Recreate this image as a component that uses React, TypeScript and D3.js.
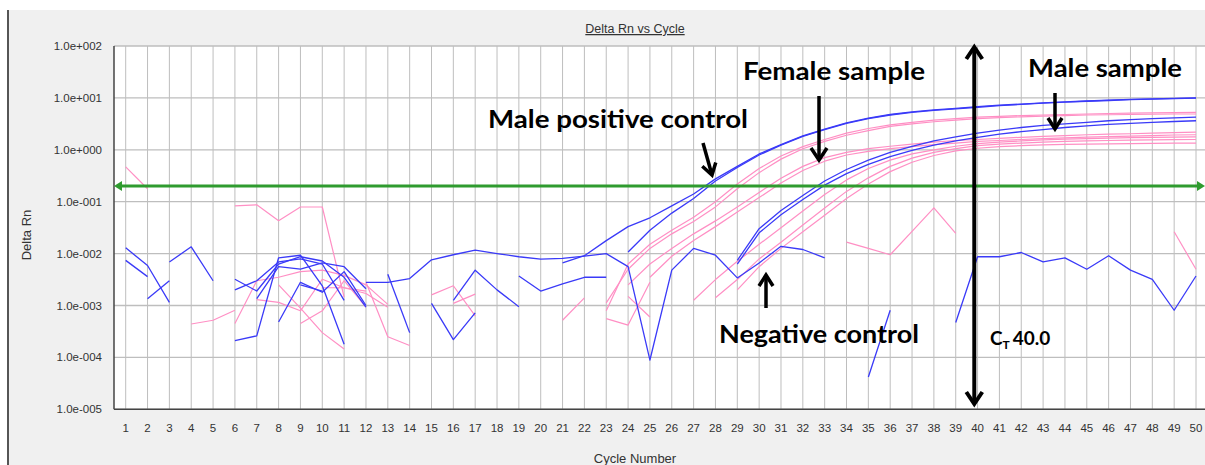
import React from 'react';
import * as d3 from 'd3';

type Run = { from: number; dRn: (number | null)[] };

// axis ticks
const cycles = d3.range(1, 51);
const decades = [1e-5, 1e-4, 1e-3, 1e-2, 1e-1, 1e0, 1e1, 1e2];
const threshold = 0.2;
const ctCycle = 39.85;

// amplification curves (Delta Rn per cycle, starting at `from`)
const malePositive1: Run = { from: 21, dRn: [6.6e-3, 9.1e-3, 0.0178, 0.0331, 0.049, 0.083, 0.141, 0.275, 0.479, 0.832, 1.26, 1.86, 2.51, 3.31, 4.07, 4.79, 5.37, 5.89, 6.31, 6.76, 7.24, 7.59, 8.04, 8.41, 8.71, 9.02, 9.33, 9.55, 9.77, 10.0] };
const malePositive2: Run = { from: 24, dRn: [0.0107, 0.0282, 0.0603, 0.115, 0.251, 0.457, 0.794, 1.23, 1.82, 2.45, 3.24, 3.98, 4.68, 5.25, 5.75, 6.17, 6.61, 7.08, 7.5, 7.94, 8.32, 8.61, 8.91, 9.23, 9.44, 9.66, 9.89] };
const male1: Run = { from: 29, dRn: [7.4e-3, 0.0302, 0.0676, 0.132, 0.251, 0.417, 0.631, 0.891, 1.17, 1.48, 1.78, 2.09, 2.4, 2.69, 2.95, 3.16, 3.39, 3.63, 3.8, 3.98, 4.12, 4.27] };
const male2: Run = { from: 29, dRn: [6.3e-3, 0.0251, 0.0562, 0.11, 0.209, 0.347, 0.525, 0.741, 0.977, 1.23, 1.48, 1.74, 2.0, 2.24, 2.45, 2.69, 2.88, 3.09, 3.24, 3.39, 3.51, 3.63] };
const female1: Run = { from: 23, dRn: [7.9e-4, 6.3e-3, 0.0151, 0.0282, 0.0501, 0.1, 0.219, 0.437, 0.759, 1.15, 1.58, 2.09, 2.57, 3.02, 3.39, 3.72, 3.98, 4.27, 4.42, 4.57, 4.68, 4.79, 4.9, 5.01, 5.07, 5.13, 5.19, 5.25] };
const female2: Run = { from: 23, dRn: [1.12e-3, 5.0e-3, 0.0126, 0.024, 0.0417, 0.0794, 0.178, 0.363, 0.661, 1.05, 1.45, 1.91, 2.34, 2.82, 3.16, 3.47, 3.72, 3.98, 4.17, 4.32, 4.47, 4.57, 4.68, 4.73, 4.79, 4.84, 4.9, 4.9] };
const female3: Run = { from: 24, dRn: [2.5e-3, 6.3e-3, 0.0126, 0.024, 0.0427, 0.0794, 0.151, 0.282, 0.479, 0.708, 0.891, 1.05, 1.17, 1.29, 1.41, 1.51, 1.58, 1.66, 1.74, 1.82, 1.88, 1.95, 2.0, 2.04, 2.09, 2.14, 2.19] };
const female4: Run = { from: 25, dRn: [3.5e-3, 8.9e-3, 0.0178, 0.0331, 0.0631, 0.12, 0.229, 0.398, 0.603, 0.794, 0.933, 1.05, 1.15, 1.26, 1.35, 1.45, 1.51, 1.58, 1.64, 1.7, 1.76, 1.8, 1.84, 1.88, 1.93, 1.95] };
const late1: Run = { from: 27, dRn: [1.26e-3, 3.16e-3, 7.1e-3, 0.0151, 0.0316, 0.066, 0.138, 0.263, 0.437, 0.631, 0.832, 1.0, 1.17, 1.32, 1.41, 1.48, 1.55, 1.6, 1.64, 1.68, 1.72, 1.74, 1.76, 1.78] };
const late2: Run = { from: 28, dRn: [1.41e-3, 3.16e-3, 7.9e-3, 0.0166, 0.0355, 0.0759, 0.158, 0.288, 0.479, 0.692, 0.891, 1.05, 1.2, 1.29, 1.35, 1.4, 1.45, 1.48, 1.51, 1.53, 1.55, 1.57, 1.58] };
const late3: Run = { from: 29, dRn: [2.0e-3, 5.6e-3, 0.0126, 0.0263, 0.055, 0.115, 0.219, 0.38, 0.575, 0.776, 0.955, 1.07, 1.15, 1.2, 1.24, 1.27, 1.29, 1.3, 1.32, 1.33, 1.35, 1.35] };

// noise / negative control traces (blue)
const negative1: Run = { from: 12, dRn: [2.8e-3, 2.8e-3, 3.3e-3, 7.6e-3, 9.5e-3, 0.0117, 0.01, 8.7e-3, 7.8e-3, 8.1e-3, 8.9e-3, 0.01, 5.6e-3, 8.9e-5, 4.8e-3, 0.0126, 9.3e-3, 3.4e-3, 6.6e-3, 0.0138, 0.012, 8.3e-3] };
const negative2: Run = { from: 35, dRn: [4.2e-5, 8.1e-4, null, null, 4.7e-4, 8.7e-3, 8.7e-3, 0.0105, 6.9e-3, 8.3e-3, 5.0e-3, 9.1e-3, 4.8e-3, 3.2e-3, 8.1e-4, 3.7e-3] };
const blueNoise1: Run = { from: 1, dRn: [0.0129, 5.9e-3, 1.15e-3] };
const blueNoise2: Run = { from: 1, dRn: [7.4e-3, 3.6e-3] };
const blueNoise3: Run = { from: 2, dRn: [1.35e-3, 3.0e-3] };
const blueNoise4: Run = { from: 3, dRn: [6.9e-3, 0.0135, 3.0e-3] };
const blueNoise5: Run = { from: 6, dRn: [3.2e-3, 1.9e-3, 6.3e-3, 8.7e-3, 7.2e-3, 3.5e-3, 9.3e-4] };
const blueNoise6: Run = { from: 6, dRn: [2.0e-3, 3.0e-3, 6.9e-3, 7.9e-3, 6.3e-3, 1.26e-3] };
const blueNoise7: Run = { from: 6, dRn: [2.1e-4, 2.6e-4, 8.3e-3, 9.3e-3, 2.4e-3, 1.8e-4] };
const blueNoise8: Run = { from: 7, dRn: [1.35e-3, 5.6e-3, 5.0e-3, 6.6e-3, 5.6e-3, 2.1e-3] };
const blueNoise9: Run = { from: 8, dRn: [4.8e-4, 2.8e-3, 1.8e-3, 4.5e-3, 1.0e-3] };
const blueNoise10: Run = { from: 9, dRn: [2.5e-3, 1.9e-3] };
const blueNoise11: Run = { from: 13, dRn: [4.0e-3, 3.0e-4] };
const blueNoise12: Run = { from: 15, dRn: [1.1e-3, 2.2e-4, 7.2e-4] };
const blueNoise13: Run = { from: 16, dRn: [1.26e-3, 4.8e-3, 2.0e-3, 9.5e-4] };
const blueNoise14: Run = { from: 19, dRn: [3.7e-3, 1.9e-3, 2.6e-3, 3.5e-3, 3.5e-3] };

// noise traces (pink)
const pinkNoise1: Run = { from: 1, dRn: [0.47, 0.178] };
const pinkNoise2: Run = { from: 4, dRn: [4.4e-4, 5.2e-4, 8.1e-4] };
const pinkNoise3: Run = { from: 6, dRn: [0.083, 0.087, 0.043, 0.079, 0.079, 1.45e-3] };
const pinkNoise4: Run = { from: 6, dRn: [4.5e-4, 3.0e-3, 3.5e-3, 4.5e-3, 4.8e-3, 3.8e-3, 2.5e-3, 1.05e-3] };
const pinkNoise5: Run = { from: 7, dRn: [1.3e-3, 1.15e-3, 7.9e-4, 3.2e-3, 2.2e-3, 1.7e-3, 9.3e-4] };
const pinkNoise6: Run = { from: 8, dRn: [2.5e-3, 8.9e-4, 3.0e-4, 1.45e-4] };
const pinkNoise7: Run = { from: 9, dRn: [4.5e-4, 7.9e-4, 3.0e-3, 9.3e-4] };
const pinkNoise8: Run = { from: 12, dRn: [2.8e-3, 2.5e-4, 1.7e-4] };
const pinkNoise9: Run = { from: 10, dRn: [2.2e-3, 2.2e-3, 1.9e-3] };
const pinkNoise10: Run = { from: 15, dRn: [1.6e-3, 2.4e-3, 6.3e-4] };
const pinkNoise11: Run = { from: 16, dRn: [1.1e-3, 1.66e-3] };
const pinkNoise12: Run = { from: 21, dRn: [5.2e-4, 1.4e-3] };
const pinkNoise13: Run = { from: 24, dRn: [1.5e-3, 6.0e-4] };
const pinkNoise14: Run = { from: 23, dRn: [5.6e-4, 4.2e-4, 2.8e-3] };
const pinkNoise15: Run = { from: 34, dRn: [0.0166, 0.0126, 9.5e-3, 0.0269, 0.0759, 0.0245] };
const pinkNoise16: Run = { from: 49, dRn: [0.0263, 5.0e-3] };

const pinkRuns = [pinkNoise1, pinkNoise2, pinkNoise3, pinkNoise4, pinkNoise5, pinkNoise6, pinkNoise7, pinkNoise8, pinkNoise9, pinkNoise10, pinkNoise11, pinkNoise12, pinkNoise13, pinkNoise14, pinkNoise15, pinkNoise16, female1, female2, female3, female4, late1, late2, late3];
const blueRuns = [blueNoise1, blueNoise2, blueNoise3, blueNoise4, blueNoise5, blueNoise6, blueNoise7, blueNoise8, blueNoise9, blueNoise10, blueNoise11, blueNoise12, blueNoise13, blueNoise14, negative1, negative2, male1, male2, malePositive1, malePositive2];

const W = 1205;
const H = 465;
const frame = { left: 114, top: 46, bottom: 409.3, right: 1207 };

const x = d3.scaleLinear().domain([1, 50]).range([125.7, 1196]);
const y = d3.scaleLog().domain([1e-5, 1e2]).range([frame.bottom, frame.top]);

const line = d3.line<[number, number | null]>()
  .defined(d => d[1] != null)
  .x(d => x(d[0]))
  .y(d => y(d[1] as number));

const runPath = (r: Run) => line(r.dRn.map((v, i) => [r.from + i, v] as [number, number | null])) || '';

const sciLabel = (v: number) => {
  const e = Math.round(Math.log10(v));
  return `1.0e${e < 0 ? '-' : '+'}${String(Math.abs(e)).padStart(3, '0')}`;
};

const BLUE = '#3a3af8';
const PINK = '#ff8fc4';
const GRID = '#bebebe';
const TXT = '#333';
const LABEL_FONT = "'Liberation Sans', Arial, sans-serif";
const NOTE_FONT = "Lato, 'Open Sans', sans-serif";

const Arrow = ({ x1, y1, x2, y2, w = 3.5, hw = 8, hl = 12 }: { x1: number; y1: number; x2: number; y2: number; w?: number; hw?: number; hl?: number }) => {
  const a = Math.atan2(y2 - y1, x2 - x1);
  const ux = Math.cos(a), uy = Math.sin(a);
  const px = -uy, py = ux;
  const bx = x2 - ux * hl, by = y2 - uy * hl;
  return (
    <g stroke="#000" strokeWidth={w} fill="none">
      <line x1={x1} y1={y1} x2={x2 - ux * 1.5} y2={y2 - uy * 1.5} />
      <path d={`M${bx + px * hw},${by + py * hw}L${x2},${y2}L${bx - px * hw},${by - py * hw}`} strokeLinejoin="miter" />
    </g>
  );
};

const App = () => {
  const tY = y(threshold);
  const ctX = x(ctCycle);
  return (
    <svg width={W} height={H} style={{ position: 'absolute', left: 0, top: 0, background: '#fff' }}>
      {/* panel */}
      <rect x={8} y={10} width={W - 8} height={H - 10} fill="#f0f0f0" />
      <line x1={8} y1={10} x2={8} y2={H} stroke="#555" strokeWidth={2} />

      <text x={635} y={33} textAnchor="middle" fontFamily={LABEL_FONT} fontSize={12.5} fill={TXT} style={{ textDecoration: 'underline' }}>Delta Rn vs Cycle</text>

      {/* plot area */}
      <rect x={frame.left} y={frame.top} width={frame.right - frame.left} height={frame.bottom - frame.top} fill="#fff" />
      {cycles.map(c => (
        <line key={'v' + c} x1={x(c)} x2={x(c)} y1={frame.top} y2={frame.bottom} stroke={GRID} strokeWidth={1} />
      ))}
      {decades.map(d => (
        <line key={'h' + d} x1={frame.left} x2={frame.right} y1={y(d)} y2={y(d)} stroke={GRID} strokeWidth={1.3} />
      ))}
      <line x1={frame.left} x2={frame.left} y1={frame.top} y2={frame.bottom} stroke="#444" strokeWidth={1.5} />
      <line x1={frame.left} x2={frame.right} y1={frame.bottom} y2={frame.bottom} stroke="#444" strokeWidth={1.5} />

      {/* traces */}
      <g fill="none" strokeLinejoin="round">
        {pinkRuns.map((r, i) => <path key={'p' + i} d={runPath(r)} stroke={PINK} strokeWidth={1.2} />)}
        {blueRuns.map((r, i) => <path key={'b' + i} d={runPath(r)} stroke={BLUE} strokeWidth={1.3} />)}
      </g>

      {/* threshold */}
      <g fill="#2f9b2f" stroke="none">
        <line x1={frame.left + 4} x2={W - 4} y1={tY} y2={tY} stroke="#2f9b2f" strokeWidth={3} />
        <path d={`M${frame.left},${tY}L${frame.left + 8},${tY - 5}L${frame.left + 8},${tY + 5}Z`} />
        <path d={`M${W},${tY}L${W - 8},${tY - 5}L${W - 8},${tY + 5}Z`} />
      </g>

      {/* axis labels */}
      {decades.map(d => (
        <text key={'yl' + d} x={102} y={y(d) + 4} textAnchor="end" fontFamily={LABEL_FONT} fontSize={11.5} fill={TXT}>{sciLabel(d)}</text>
      ))}
      {cycles.map(c => (
        <text key={'xl' + c} x={x(c)} y={432} textAnchor="middle" fontFamily={LABEL_FONT} fontSize={11.5} fill={TXT}>{c}</text>
      ))}
      <text x={635} y={463} textAnchor="middle" fontFamily={LABEL_FONT} fontSize={13} fill={TXT}>Cycle Number</text>
      <text transform="translate(31,235) rotate(-90)" textAnchor="middle" fontFamily={LABEL_FONT} fontSize={13} fill={TXT}>Delta Rn</text>

      {/* Ct marker */}
      <g stroke="#000" strokeWidth={4} fill="none">
        <line x1={ctX} x2={ctX} y1={frame.top + 3} y2={404 - 3} />
        <path d={`M${ctX - 8},${frame.top + 13}L${ctX},${frame.top + 1}L${ctX + 8},${frame.top + 13}`} />
        <path d={`M${ctX - 8},${392}L${ctX},${404}L${ctX + 8},${392}`} />
      </g>
      <text x={990} y={345} fontFamily={NOTE_FONT} fontWeight={700} fontSize={19} fill="#000">
        C<tspan fontSize={12} dy={4}>T</tspan><tspan dy={-4} dx={3}>40.0</tspan>
      </text>

      {/* annotations */}
      <g fontFamily={NOTE_FONT} fontWeight={700} fontSize={24} fill="#000">
        <text x={488} y={128} textLength={260} lengthAdjust="spacingAndGlyphs">Male positive control</text>
        <text x={743} y={80} textLength={182} lengthAdjust="spacingAndGlyphs">Female sample</text>
        <text x={1028} y={77} textLength={154} lengthAdjust="spacingAndGlyphs">Male sample</text>
        <text x={719} y={343} textLength={200} lengthAdjust="spacingAndGlyphs">Negative control</text>
      </g>
      <Arrow x1={703} y1={143} x2={712} y2={175} hw={7} hl={11} />
      <Arrow x1={819} y1={96} x2={819} y2={160} />
      <Arrow x1={1055} y1={93} x2={1055} y2={129} hw={7} hl={11} />
      <Arrow x1={766} y1={308} x2={766} y2={275} hw={7} hl={11} />
    </svg>
  );
};

export default App;
